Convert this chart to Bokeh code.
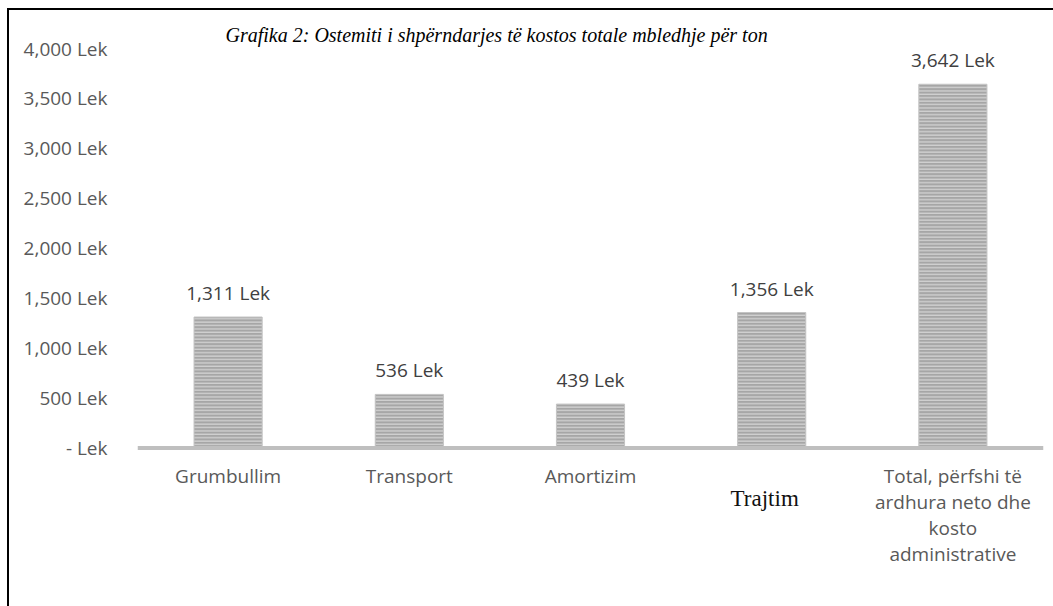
from bokeh.plotting import figure
from bokeh.models import ColumnDataSource, FixedTicker, Span, Title
from bokeh.embed import file_html
from bokeh.resources import INLINE
from bokeh.core.properties import value

# ---- data ----
categories = ["Grumbullim", "Transport", "Amortizim", "Trajtim",
              "Total, përfshi të ardhura neto dhe kosto administrative"]
costs = [1311, 536, 439, 1356, 3642]
value_labels = ["1,311 Lek", "536 Lek", "439 Lek", "1,356 Lek", "3,642 Lek"]
y_ticks = [0, 500, 1000, 1500, 2000, 2500, 3000, 3500, 4000]
y_tick_labels = ["- Lek", "500 Lek", "1,000 Lek", "1,500 Lek", "2,000 Lek",
                 "2,500 Lek", "3,000 Lek", "3,500 Lek", "4,000 Lek"]
# category names as printed under the bars (sans-serif ones)
sans_cats = ["Grumbullim", "Transport", "Amortizim",
             "Total, përfshi të ardhura neto dhe kosto administrative"]
sans_texts = ["Grumbullim", "Transport", "Amortizim",
              "Total, përfshi të\nardhura neto dhe\nkosto\nadministrative"]
# category name printed in a serif face
serif_cats = ["Trajtim"]
serif_texts = ["Trajtim"]
title_text = "Grafika 2: Ostemiti i shpërndarjes të kostos totale mbledhje për ton"

FONT = "Open Sans"
GREY_TEXT = "#595959"
FS = "19px"

src = ColumnDataSource(dict(cat=categories, cost=costs, lab=value_labels))
src_sans = ColumnDataSource(dict(cat=sans_cats, txt=sans_texts))
src_serif = ColumnDataSource(dict(cat=serif_cats, txt=serif_texts))

p = figure(x_range=categories, y_range=(-1608, 4000), width=1046, height=598,
           output_backend="svg", toolbar_location=None,
           min_border_left=128, min_border_right=12,
           min_border_top=38, min_border_bottom=0)
p.margin = (8, 0, 0, 7)
p.styles = {"border-top": "2px solid #000", "border-left": "2px solid #000"}
p.outline_line_color = None
p.xgrid.grid_line_color = None
p.ygrid.grid_line_color = None
p.background_fill_color = "white"
p.xaxis.visible = False

p.title = Title(text=title_text, align="left", offset=88,
                text_font="Liberation Serif", text_font_style="italic",
                text_font_size="20px", text_color="#000000", standoff=6)

p.vbar(x="cat", top="cost", width=0.376, source=src,
       fill_color="#a6a6a6", line_color="#c4c4c4", line_width=1,
       hatch_pattern="horizontal_line", hatch_color="#d6d6d6",
       hatch_scale=3.4, hatch_weight=1.2)

# baseline (category axis line)
p.add_layout(Span(location=0, dimension="width", line_color="#bfbfbf",
                  line_width=4))

# value labels
p.text(x="cat", y="cost", text="lab", source=src,
       text_font=value(FONT), text_font_size=FS, text_color="#404040",
       text_align="center", text_baseline="bottom", y_offset=-11)

# category labels
p.text(x="cat", y=0, text="txt", source=src_sans,
       text_font=value(FONT), text_font_size=FS, text_color=GREY_TEXT,
       text_align="center", text_baseline="top", text_line_height=1.0,
       y_offset=15)
p.text(x="cat", y=0, text="txt", source=src_serif,
       text_font=value("Liberation Serif"), text_font_size="23px",
       text_color="#111111", text_align="center", text_baseline="middle",
       x_offset=-7, y_offset=51)

# y axis
p.yaxis.ticker = FixedTicker(ticks=y_ticks)
p.yaxis.major_label_overrides = {t: l for t, l in zip(y_ticks, y_tick_labels)}
p.yaxis.axis_line_color = None
p.yaxis.major_tick_line_color = None
p.yaxis.minor_tick_line_color = None
p.yaxis.major_label_standoff = 24
p.yaxis.major_label_text_font = FONT
p.yaxis.major_label_text_font_size = FS
p.yaxis.major_label_text_color = GREY_TEXT

open("out.html", "w").write(file_html(p, INLINE))
